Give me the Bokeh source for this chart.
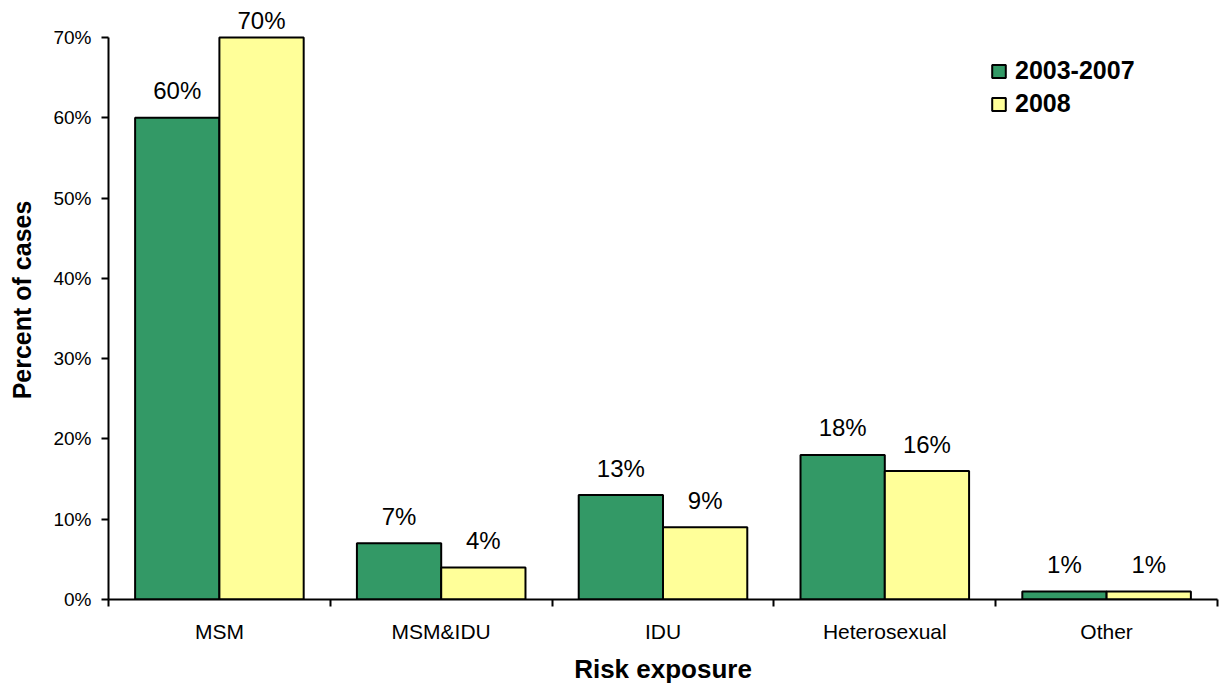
from bokeh.plotting import figure
from bokeh.models import Range1d, FixedTicker, Legend, LegendItem, ColumnDataSource
from bokeh.core.properties import value
from bokeh.embed import file_html
from bokeh.resources import INLINE

categories = ["MSM", "MSM&IDU", "IDU", "Heterosexual", "Other"]
series_names = ["2003-2007", "2008"]
pct_2003_2007 = [60, 7, 13, 18, 1]
pct_2008 = [70, 4, 9, 16, 1]
y_ticks = [0, 10, 20, 30, 40, 50, 60, 70]

FONT = "Liberation Sans"
GREEN = "#339966"
YELLOW = "#FFFF99"
Y_MAX = 70

p = figure(width=1220, height=687, output_backend="svg", toolbar_location=None,
           x_range=Range1d(0, len(categories)), y_range=Range1d(0, 74.6),
           min_border_left=108, min_border_right=3, min_border_top=0, min_border_bottom=88)
p.outline_line_color = None
p.xgrid.visible = False
p.ygrid.visible = False
p.background_fill_color = "white"
p.border_fill_color = "white"

idx = list(range(len(categories)))
bw = 0.38


def label_offsets(vals):
    # labels near the top of the value axis are pushed down (as in the original)
    return [-17 if v >= Y_MAX - 2 else -27 for v in vals]


src1 = ColumnDataSource(dict(x=[i + 0.31 for i in idx], top=pct_2003_2007,
                             lab=[f"{v}%" for v in pct_2003_2007],
                             off=label_offsets(pct_2003_2007)))
src2 = ColumnDataSource(dict(x=[i + 0.69 for i in idx], top=pct_2008,
                             lab=[f"{v}%" for v in pct_2008],
                             off=label_offsets(pct_2008)))

r1 = p.vbar(x="x", top="top", bottom=0, width=bw, source=src1,
            fill_color=GREEN, line_color="black", line_width=2)
r2 = p.vbar(x="x", top="top", bottom=0, width=bw, source=src2,
            fill_color=YELLOW, line_color="black", line_width=2)

for s in (src1, src2):
    p.text(x="x", y="top", text="lab", source=s, text_align="center",
           text_baseline="alphabetic", y_offset="off",
           text_font=value(FONT), text_font_size="24px", text_color="black")

# x axis
xa = p.xaxis[0]
xa.ticker = FixedTicker(ticks=[i + 0.5 for i in idx], minor_ticks=idx + [len(categories)])
xa.major_label_overrides = {i + 0.5: c for i, c in zip(idx, categories)}
xa.major_tick_out = 0
xa.major_tick_in = 0
xa.minor_tick_out = 7
xa.minor_tick_in = 0
xa.minor_tick_line_color = "black"
xa.minor_tick_line_width = 2
xa.axis_line_color = "black"
xa.axis_line_width = 2
xa.major_label_text_font = FONT
xa.major_label_text_font_size = "21px"
xa.major_label_text_color = "black"
xa.major_label_standoff = 13
xa.axis_label = "Risk exposure"
xa.axis_label_text_font = FONT
xa.axis_label_text_font_style = "bold"
xa.axis_label_text_font_size = "26px"
xa.axis_label_text_color = "black"
xa.axis_label_standoff = 8

# y axis
ya = p.yaxis[0]
ya.ticker = FixedTicker(ticks=y_ticks, minor_ticks=[])
ya.major_label_overrides = {t: f"{t}%" for t in y_ticks}
ya.bounds = (0, Y_MAX)
ya.major_tick_out = 7
ya.major_tick_in = 0
ya.minor_tick_out = 0
ya.minor_tick_in = 0
ya.major_tick_line_color = "black"
ya.major_tick_line_width = 2
ya.axis_line_color = "black"
ya.axis_line_width = 2
ya.major_label_text_font = FONT
ya.major_label_text_font_size = "19px"
ya.major_label_text_color = "black"
ya.major_label_standoff = 10
ya.axis_label = "Percent of cases"
ya.axis_label_text_font = FONT
ya.axis_label_text_font_style = "bold"
ya.axis_label_text_font_size = "25px"
ya.axis_label_text_color = "black"
ya.axis_label_standoff = 14

legend = Legend(items=[LegendItem(label=series_names[0], renderers=[r1]),
                       LegendItem(label=series_names[1], renderers=[r2])],
                location=(882, 481), padding=0, margin=0, spacing=4,
                glyph_width=17, glyph_height=16, label_height=26, label_standoff=8,
                label_text_font=FONT, label_text_font_style="bold",
                label_text_font_size="25px", label_text_color="black",
                border_line_alpha=0, background_fill_alpha=0)
p.add_layout(legend)

open("out.html", "w").write(file_html(p, INLINE))
